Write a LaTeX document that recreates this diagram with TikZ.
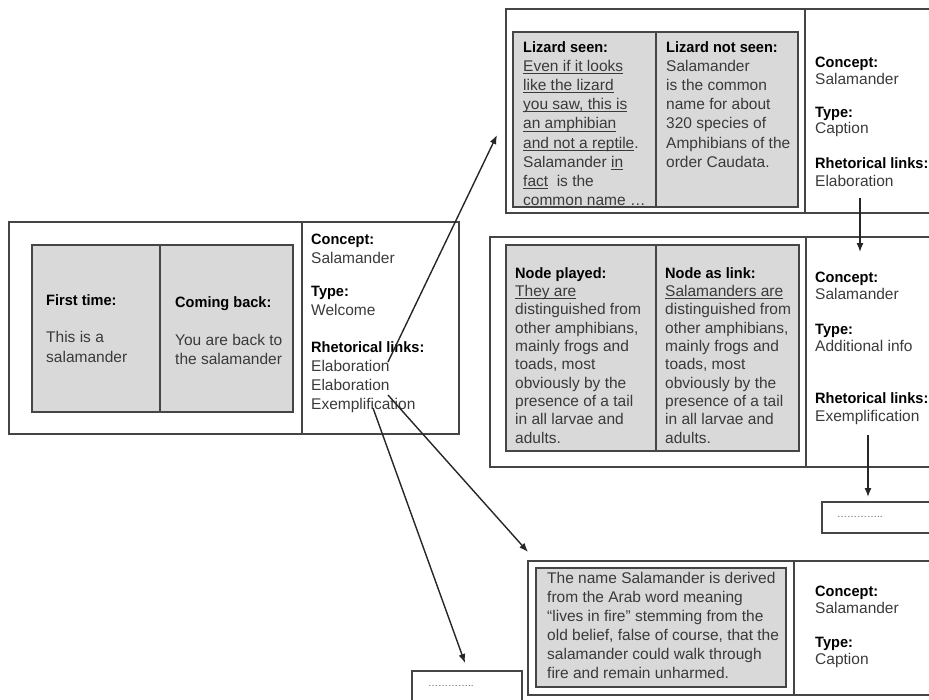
\documentclass[tikz,border=0pt]{standalone}
\usepackage{fontspec}
\setmainfont{Liberation Sans}[BoldFeatures={FakeStretch=0.97}]
\usetikzlibrary{arrows.meta}

% underline at a fixed depth, independent of descenders
\newsavebox\ulbox
\newcommand\ulin[1]{\sbox\ulbox{#1}\rlap{\rule[-2.6pt]{\wd\ulbox}{0.9pt}}\usebox\ulbox}
% bold field heading
\newcommand\hd[1]{{\fontsize{15}{18}\selectfont\bfseries\color{black}#1}}

\definecolor{bodytext}{HTML}{3A3A3A}
\definecolor{frame}{HTML}{454545}
\definecolor{panel}{HTML}{D9D9D9}

\tikzset{
  outerbox/.style={draw=frame, line width=1.5pt},
  graybox/.style={draw=frame, fill=panel, line width=1.5pt},
  divider/.style={draw=frame, line width=1.5pt},
  txt/.style={anchor=north west, inner sep=0pt, align=left,
              font=\fontsize{15.5}{18.6}\selectfont, text=bodytext},
  wide/.style={txt, font=\fontsize{15.5}{19.2}\selectfont},
  dots/.style={anchor=west, inner sep=0pt, font=\fontsize{10}{10}\selectfont, text=black!65},
  link/.style={-{Latex[length=9pt,width=7pt]}, line width=1.4pt, draw=black!85},
}

\begin{document}
\begin{tikzpicture}[x=1pt, y=-1pt]
\useasboundingbox (0,0) rectangle (929,699);
\clip (0,0) rectangle (929,699);

% ---------- welcome node ----------
\draw[outerbox] (9,222) rectangle (459,434);
\draw[divider] (302,222) -- (302,434);
\draw[graybox] (32,245) rectangle (293,412);
\draw[divider] (160,245) -- (160,412);
\node[txt] (w1h) at (46,294) {\hd{First time:}};
\node[txt, font=\fontsize{15.5}{20}\selectfont] (w1b) at (46,331) {This is a\\salamander};
\node[txt] (w2h) at (175,296) {\hd{Coming back:}};
\node[txt, font=\fontsize{15.5}{19.5}\selectfont] (w2b) at (175,334) {You are back to\\the salamander};
\node[txt] (wc) at (311,234) {\hd{Concept:}\\Salamander};
\node[txt] (wt) at (311,286) {\hd{Type:}\\Welcome};
\node[txt, font=\fontsize{15.5}{19}\selectfont] (wr) at (311,341)
  {\hd{Rhetorical links:}\\Elaboration\\Elaboration\\Exemplification};

% ---------- caption node (lizard) ----------
\draw[outerbox] (506,9) rectangle (940,213);
\draw[divider] (805,9) -- (805,213);
\draw[graybox] (513,32) rectangle (798,207);
\draw[divider] (656,32) -- (656,207);
\node[wide] (c1) at (523,41) {\hd{Lizard seen:}\\
  \ulin{Even if it looks}\\
  \ulin{like the lizard}\\
  \ulin{you saw, this is}\\
  \ulin{an amphibian}\\
  \ulin{and not a reptile}.\\
  Salamander \ulin{in}\\
  \ulin{fact}\ \ is the\\
  common name …};
\node[wide] (c2) at (666,41) {\hd{Lizard not seen:}\\
  Salamander\\
  is the common\\
  name for about\\
  320 species of\\
  Amphibians of the\\
  order Caudata.};
\node[txt, font=\fontsize{15.5}{17}\selectfont] (cc) at (815,57) {\hd{Concept:}\\Salamander};
\node[txt, font=\fontsize{15.5}{16}\selectfont] (ct) at (815,107) {\hd{Type:}\\Caption};
\node[txt] (cr) at (815,157) {\hd{Rhetorical links:}\\Elaboration};

% ---------- additional info node ----------
\draw[outerbox] (490,237) rectangle (940,467);
\draw[divider] (806,237) -- (806,467);
\draw[graybox] (506,245) rectangle (799,451);
\draw[divider] (656,245) -- (656,451);
\node[txt, font=\fontsize{15.5}{18.35}\selectfont] (a1) at (515,267) {\hd{Node played:}\\
  \ulin{They are}\\
  distinguished from\\
  other amphibians,\\
  mainly frogs and\\
  toads, most\\
  obviously by the\\
  presence of a tail\\
  in all larvae and\\
  adults.};
\node[txt, font=\fontsize{15.5}{18.35}\selectfont] (a2) at (665,267) {\hd{Node as link:}\\
  \ulin{Salamanders are}\\
  distinguished from\\
  other amphibians,\\
  mainly frogs and\\
  toads, most\\
  obviously by the\\
  presence of a tail\\
  in all larvae and\\
  adults.};
\node[txt, font=\fontsize{15.5}{17}\selectfont] (ac) at (815,272) {\hd{Concept:}\\Salamander};
\node[txt, font=\fontsize{15.5}{17}\selectfont] (at) at (815,324) {\hd{Type:}\\Additional info};
\node[txt] (ar) at (815,392) {\hd{Rhetorical links:}\\Exemplification};

% ---------- caption node (name origin) ----------
\draw[outerbox] (528,561) rectangle (940,695);
\draw[divider] (794,561) -- (794,695);
\draw[graybox] (536,568) rectangle (786,687);
\node[txt, font=\fontsize{15.5}{19}\selectfont] (n1) at (547,572) {The name Salamander is derived\\
  from the Arab word meaning\\
  “lives in fire” stemming from the\\
  old belief, false of course, that the\\
  salamander could walk through\\
  fire and remain unharmed.};
\node[txt, font=\fontsize{15.5}{17}\selectfont] (nc) at (815,586) {\hd{Concept:}\\Salamander};
\node[txt, font=\fontsize{15.5}{17}\selectfont] (nt) at (815,637) {\hd{Type:}\\Caption};

% ---------- placeholder nodes ----------
\draw[outerbox] (822,502) rectangle (940,533);
\node[dots] (d1) at (837,517) {…………..};
\draw[outerbox] (412,671) rectangle (522,710);
\node[dots] (d2) at (428,686) {…………..};

% ---------- rhetorical links ----------
\coordinate (s1) at (388,362);
\coordinate (t1) at (497,135);
\coordinate (s2) at (388,395);
\coordinate (t2) at (528,552);
\coordinate (s3) at (373,408);
\coordinate (t3) at (465,663);
\coordinate (s4) at (860,198);
\coordinate (t4) at (860,252);
\coordinate (s5) at (868,435);
\coordinate (t5) at (868,497);
\draw[link] (s1) -- (t1);
\draw[link] (s2) -- (t2);
\draw[link] (s3) -- (t3);
\draw[link] (s4) -- (t4);
\draw[link] (s5) -- (t5);
\end{tikzpicture}
\end{document}
